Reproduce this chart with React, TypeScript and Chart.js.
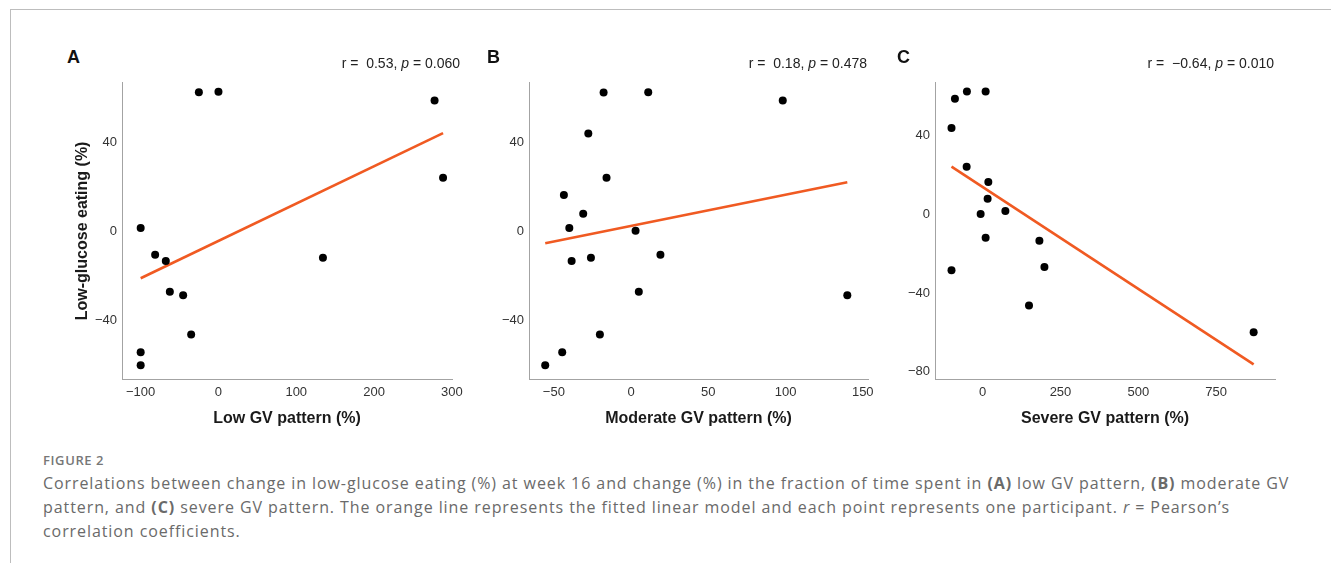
import React, { useEffect, useRef } from "react";
import { Chart, registerables } from "chart.js";

Chart.register(...registerables);

// ---------- DATA ----------
// Panel A: Low GV pattern (%) vs Low-glucose eating (%)
const lowGvX = [-25.2, 0, 277.8, 288.7, -100, -81.4, -67.7, 134.3, -62.5, -45.4, -35.1, -100, -100];
const lowGvY = [62.5, 62.7, 58.8, 24.1, 1.6, -10.4, -13.3, -11.8, -27, -28.6, -46.2, -54.2, -60];
const lowFitX = [-100, 288.7];
const lowFitY = [-21, 44.1];

// Panel B: Moderate GV pattern (%)
const modGvX = [-17.8, 11.1, 98.2, -27.7, -15.9, -43.5, -31, -40, 2.9, 19, -26, -38.5, 5, 140, -20.2, -44.6, -55.6];
const modGvY = [62.4, 62.5, 58.8, 43.9, 24.1, 16.4, 8, 1.6, 0.3, -10.4, -11.8, -13.3, -27, -28.6, -46.2, -54.2, -60];
const modFitX = [-55.6, 140];
const modFitY = [-5.3, 22.1];

// Panel C: Severe GV pattern (%)
const sevGvX = [-50.5, 9.6, -89, -100, -51.4, 18.3, 16, -6.4, 73, 9.6, 182.3, -100, 198.4, 148.9, 870.4];
const sevGvY = [62.4, 62.4, 58.7, 43.8, 24.2, 16.4, 7.9, 0.2, 1.7, -11.9, -13.4, -28.5, -26.8, -46.4, -60];
const sevFitX = [-100, 870.4];
const sevFitY = [24.2, -76.3];

// Tick labels
const lowTicksX = [-100, 0, 100, 200, 300];
const modTicksX = [-50, 0, 50, 100, 150];
const sevTicksX = [0, 250, 500, 750];
const abTicksY = [-40, 0, 40];
const cTicksY = [-80, -40, 0, 40];

// Panel text
const panelLetters = ["A", "B", "C"];
const rValues = ["0.53", "0.18", "\u22120.64"];
const pValues = ["0.060", "0.478", "0.010"];
const xTitles = ["Low GV pattern (%)", "Moderate GV pattern (%)", "Severe GV pattern (%)"];
const yTitle = "Low-glucose eating (%)";

// ---------- STYLE ----------
const AXIS_FONT = "'Liberation Sans', Arial, Helvetica, sans-serif";
const ORANGE = "#F05A22";
const AXIS_COLOR = "#a3a3a3";

const fmt = (v: number) => (v < 0 ? "\u2212" + Math.abs(v) : String(v));

type PanelCfg = {
  left: number;
  top: number;
  w: number;
  h: number;
  yAxisW: number;
  xAxisH: number;
  padTop: number;
  padRight: number;
  xs: number[];
  ys: number[];
  fx: number[];
  fy: number[];
  xMin: number;
  xMax: number;
  yMin: number;
  yMax: number;
  xTicks: number[];
  yTicks: number[];
  xTitle: string;
  yTitle?: string;
};

const panels: PanelCfg[] = [
  {
    left: 60, top: 70, w: 410, h: 370, yAxisW: 62, xAxisH: 61, padTop: 10, padRight: 18,
    xs: lowGvX, ys: lowGvY, fx: lowFitX, fy: lowFitY,
    xMin: -124, xMax: 300.2, yMin: -66.2, yMax: 66.7,
    xTicks: lowTicksX, yTicks: abTicksY, xTitle: xTitles[0], yTitle,
  },
  {
    left: 470, top: 70, w: 410, h: 370, yAxisW: 59, xAxisH: 61, padTop: 10, padRight: 12,
    xs: modGvX, ys: modGvY, fx: modFitX, fy: modFitY,
    xMin: -66.1, xMax: 153.4, yMin: -66.2, yMax: 66.7,
    xTicks: modTicksX, yTicks: abTicksY, xTitle: xTitles[1],
  },
  {
    left: 880, top: 70, w: 420, h: 370, yAxisW: 55, xAxisH: 61, padTop: 10, padRight: 25,
    xs: sevGvX, ys: sevGvY, fx: sevFitX, fy: sevFitY,
    xMin: -153, xMax: 939, yMin: -83.7, yMax: 66.8,
    xTicks: sevTicksX, yTicks: cTicksY, xTitle: xTitles[2],
  },
];

function Panel({ cfg }: { cfg: PanelCfg }) {
  const ref = useRef<HTMLCanvasElement | null>(null);
  useEffect(() => {
    if (!ref.current) return;
    const points = cfg.xs.map((x, i) => ({ x, y: cfg.ys[i] }));
    const fit = cfg.fx.map((x, i) => ({ x, y: cfg.fy[i] }));
    const chart = new Chart(ref.current, {
      type: "scatter",
      data: {
        datasets: [
          {
            data: points,
            backgroundColor: "#000",
            borderColor: "#000",
            pointRadius: 4,
            pointBorderWidth: 0,
            showLine: false,
            clip: false,
          },
          {
            data: fit,
            showLine: true,
            borderColor: ORANGE,
            borderWidth: 2.6,
            pointRadius: 0,
            fill: false,
          },
        ],
      },
      options: {
        responsive: false,
        animation: false,
        devicePixelRatio: 1,
        events: [],
        layout: {
          autoPadding: false,
          padding: { top: cfg.padTop, right: cfg.padRight, left: 0, bottom: 0 },
        },
        plugins: {
          legend: { display: false },
          tooltip: { enabled: false },
          title: { display: false },
        },
        scales: {
          x: {
            type: "linear",
            position: "bottom",
            min: cfg.xMin,
            max: cfg.xMax,
            grid: { display: false, drawTicks: false },
            border: { display: true, color: AXIS_COLOR, width: 1 },
            ticks: {
              color: "#333",
              font: { family: AXIS_FONT, size: 13 },
              padding: 6,
              maxRotation: 0,
              autoSkip: false,
              callback: (v: any) => fmt(Number(v)),
            },
            afterBuildTicks: (s: any) => {
              s.ticks = cfg.xTicks.map((v) => ({ value: v }));
            },
            afterFit: (s: any) => {
              s.height = cfg.xAxisH;
            },
            title: {
              display: true,
              text: cfg.xTitle,
              color: "#1a1a1a",
              font: { family: AXIS_FONT, size: 16, weight: "bold" },
              padding: { top: 0, bottom: 12 },
            },
          },
          y: {
            type: "linear",
            position: "left",
            min: cfg.yMin,
            max: cfg.yMax,
            grid: { display: false, drawTicks: false },
            border: { display: true, color: AXIS_COLOR, width: 1 },
            ticks: {
              color: "#333",
              font: { family: AXIS_FONT, size: 13 },
              padding: 5,
              autoSkip: false,
              callback: (v: any) => fmt(Number(v)),
            },
            afterBuildTicks: (s: any) => {
              s.ticks = cfg.yTicks.map((v) => ({ value: v }));
            },
            afterFit: (s: any) => {
              s.width = cfg.yAxisW;
            },
            title: {
              display: !!cfg.yTitle,
              text: cfg.yTitle || "",
              color: "#1a1a1a",
              font: { family: AXIS_FONT, size: 16, weight: "bold" },
              padding: { top: 13, bottom: 0 },
            },
          },
        },
      },
    } as any);
    return () => chart.destroy();
  }, [cfg]);
  return (
    <canvas
      ref={ref}
      width={cfg.w}
      height={cfg.h}
      style={{ position: "absolute", left: cfg.left, top: cfg.top, width: cfg.w, height: cfg.h }}
    />
  );
}

const letterLefts = [67, 487, 897];
const statRights = [460, 867, 1274];

export default function App() {
  return (
    <div
      style={{
        position: "absolute",
        left: 0,
        top: 0,
        width: 1331,
        height: 563,
        overflow: "hidden",
        background: "#fff",
      }}
    >
      <div
        style={{
          position: "absolute",
          left: 10,
          top: 9,
          width: 1330,
          height: 560,
          borderTop: "1px solid #bdbdbd",
          borderLeft: "1px solid #bdbdbd",
        }}
      />
      {panels.map((p, i) => (
        <Panel key={i} cfg={p} />
      ))}
      {panelLetters.map((l, i) => (
        <div
          key={"l" + i}
          style={{
            position: "absolute",
            left: letterLefts[i],
            top: 48,
            fontFamily: AXIS_FONT,
            fontWeight: "bold",
            fontSize: 18,
            lineHeight: "18px",
            color: "#111",
          }}
        >
          {l}
        </div>
      ))}
      {rValues.map((r, i) => (
        <div
          key={"s" + i}
          style={{
            position: "absolute",
            right: 1331 - statRights[i],
            top: 55,
            fontFamily: AXIS_FONT,
            fontSize: 14,
            lineHeight: "16px",
            color: "#222",
            whiteSpace: "pre",
          }}
        >
          {"r =  " + r + ", "}
          <i>p</i>
          {" = " + pValues[i]}
        </div>
      ))}
      <div
        style={{
          position: "absolute",
          left: 43,
          top: 452,
          fontFamily: "'Open Sans', sans-serif",
          fontWeight: 600,
          fontSize: 13,
          lineHeight: "16px",
          letterSpacing: "0.6px",
          color: "#777",
        }}
      >
        FIGURE 2
      </div>
      <div
        style={{
          position: "absolute",
          left: 43,
          top: 471,
          fontFamily: "'Open Sans', sans-serif",
          fontSize: 16,
          lineHeight: "24px",
          letterSpacing: "0.92px",
          color: "#6a6a6a",
          whiteSpace: "nowrap",
        }}
      >
        Correlations between change in low-glucose eating (%) at week 16 and change (%) in the fraction of time spent in{" "}
        <b>(A)</b> low GV pattern, <b>(B)</b> moderate GV
        <br />
        pattern, and <b>(C)</b> severe GV pattern. The orange line represents the fitted linear model and each point
        represents one participant. <i>r</i> = Pearson’s
        <br />
        correlation coefficients.
      </div>
    </div>
  );
}
